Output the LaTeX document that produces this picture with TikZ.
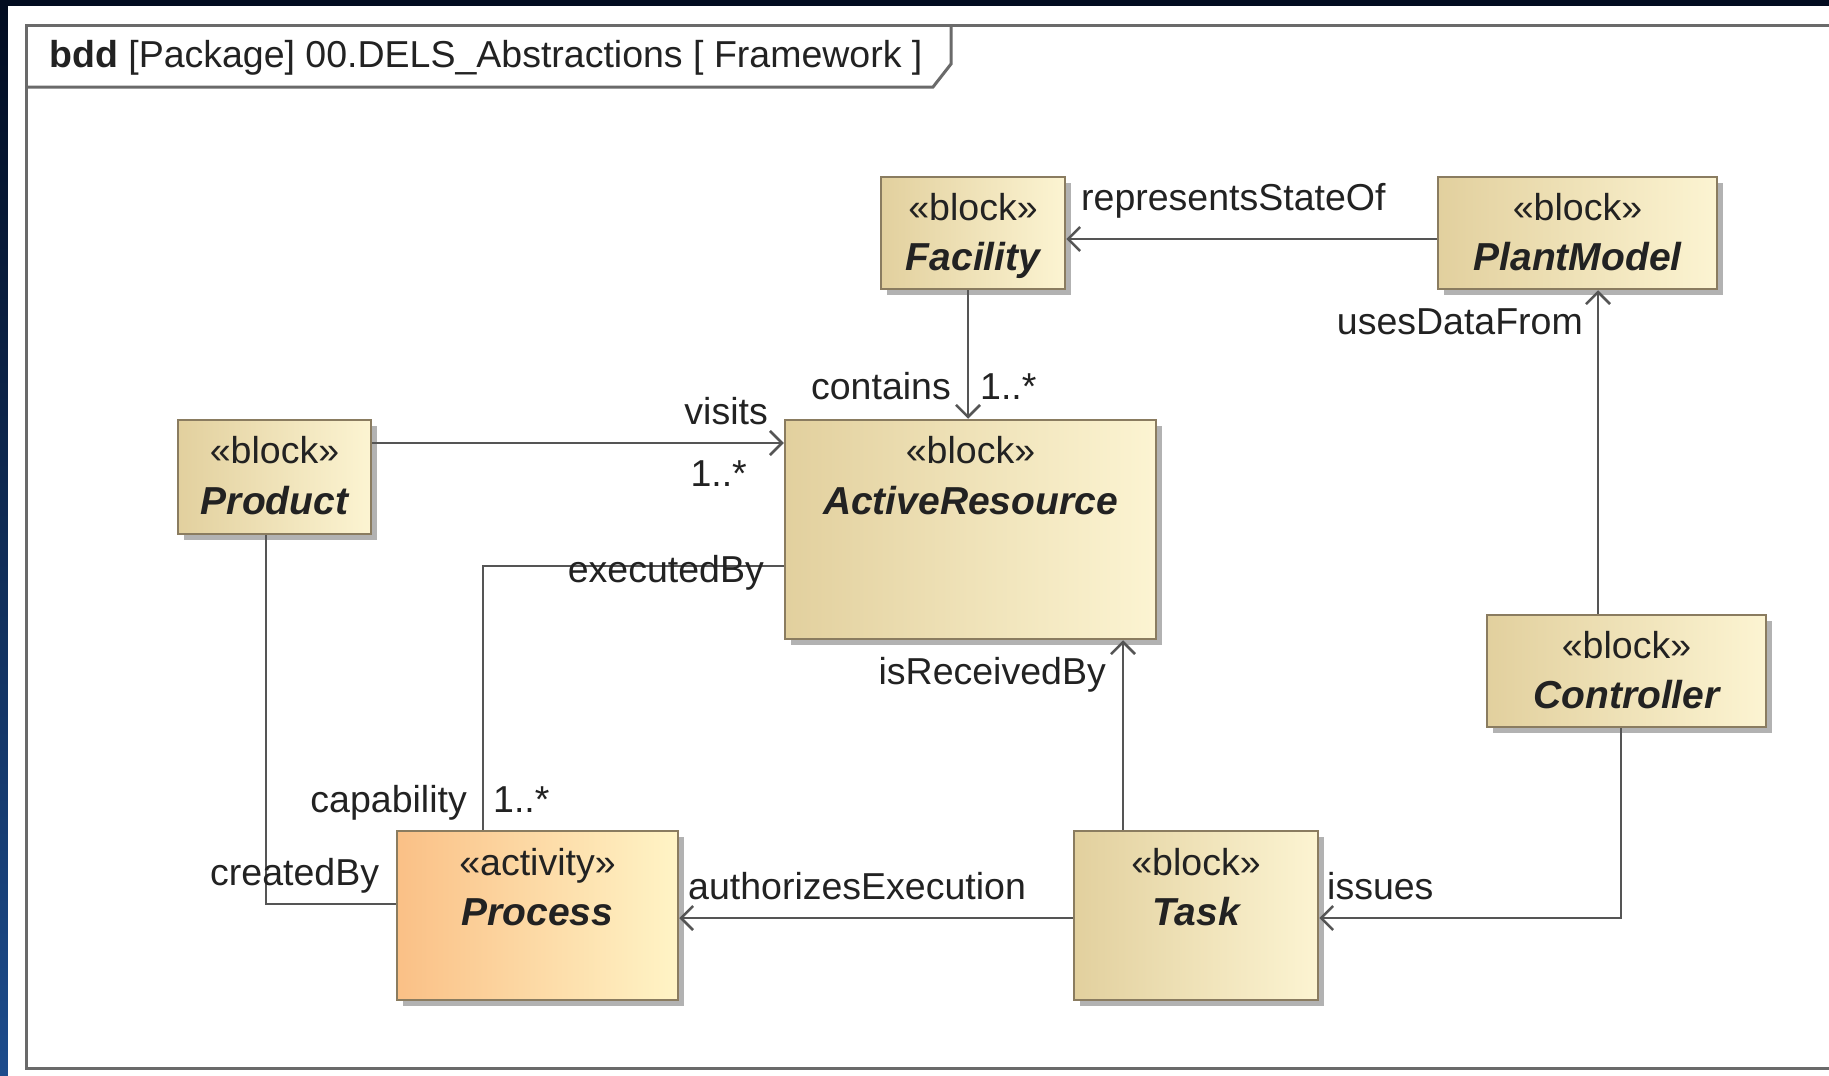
\documentclass[tikz,border=0pt]{standalone}
\usepackage{fontspec}
\setmainfont{Liberation Sans}
\usetikzlibrary{arrows.meta,shadows}
\definecolor{navy}{HTML}{020C20}
\definecolor{navyB}{HTML}{1D4C8C}
\definecolor{blkL}{HTML}{E2D09E}
\definecolor{blkR}{HTML}{FCF4D2}
\definecolor{procL}{HTML}{FAC086}
\definecolor{procR}{HTML}{FFF4C6}
\definecolor{bord}{HTML}{8A7C60}
\definecolor{lineC}{HTML}{555555}
\definecolor{frameC}{HTML}{6A6A6A}
\definecolor{txt}{HTML}{222222}
\newcommand\lbf{\fontsize{37.5}{41}\selectfont}
\newcommand\nmf{\fontsize{39}{43}\selectfont}
\tikzset{
  blockbox/.style={draw=bord, line width=2.5pt, left color=blkL, right color=blkR,
    drop shadow={shadow xshift=6pt, shadow yshift=-6pt, fill=black, opacity=.3},
    inner sep=0pt},
  procbox/.style={blockbox, left color=procL, right color=procR},
  stereo/.style={font=\lbf, text=txt, inner sep=0pt, text height=0.75em, text depth=0.2em},
  bname/.style={font=\nmf\bfseries\itshape, text=txt, inner sep=0pt, text height=0.75em, text depth=0.2em},
  lbl/.style={font=\lbf, text=txt, inner sep=0pt, text height=0.75em, text depth=0.2em},
  conn/.style={draw=lineC, line width=2.5pt},
  arr/.style={conn, -{Straight Barb[length=12pt,width=24pt,line width=2.5pt]}},
  frm/.style={draw=frameC, line width=3pt}
}
\begin{document}
\begin{tikzpicture}[x=1pt,y=-1pt]
\useasboundingbox (0,0) rectangle (1829,1076);
% background
\fill[navy] (0,0) rectangle (1829,1076);
\shade[top color=navy, bottom color=navyB] (0,6) rectangle (8,1076);
\fill[white] (8,6) rectangle (1829,1076);
% frame
\draw[frm] (1835,25) -- (26,25) -- (26,1068) -- (1835,1068);
\draw[frm] (26,87) -- (933,87) -- (951,64) -- (951,25);
\node[lbl, anchor=west] (hdr) at (49,65) {\textbf{bdd} [Package] 00.DELS\_Abstractions [ Framework ]};

% boxes
\node[blockbox, minimum width=184pt, minimum height=112pt] (fac) at (973,233) {};
\node[blockbox, minimum width=279pt, minimum height=112pt] (plant) at (1577.5,233) {};
\node[blockbox, minimum width=193pt, minimum height=114pt] (prod) at (274.5,477) {};
\node[blockbox, minimum width=371pt, minimum height=219pt] (ar) at (970.5,529.5) {};
\node[blockbox, minimum width=279pt, minimum height=112pt] (ctrl) at (1626.5,671) {};
\node[procbox, minimum width=281pt, minimum height=169pt] (proc) at (537.5,915.5) {};
\node[blockbox, minimum width=244pt, minimum height=169pt] (task) at (1196,915.5) {};

% box texts
\node[stereo] (facS) at (973,218) {«block»};
\node[bname] (facN) at (973,268) {Facility};
\node[stereo] (plantS) at (1577.5,218) {«block»};
\node[bname] (plantN) at (1577.5,268) {PlantModel};
\node[stereo] (prodS) at (274.5,461) {«block»};
\node[bname] (prodN) at (274.5,512) {Product};
\node[stereo] (arS) at (970.5,461) {«block»};
\node[bname] (arN) at (970.5,512) {ActiveResource};
\node[stereo] (ctrlS) at (1626.5,656) {«block»};
\node[bname] (ctrlN) at (1626.5,706) {Controller};
\node[stereo] (procS) at (537.5,873) {«activity»};
\node[bname] (procN) at (537.5,923) {Process};
\node[stereo] (taskS) at (1196,873) {«block»};
\node[bname] (taskN) at (1196,923) {Task};

% helper coordinates
\coordinate (rsY) at (0,239);
\coordinate (udX) at (1598,0);
\coordinate (cX) at (968,0);
\coordinate (vY) at (0,443);
\coordinate (eY) at (0,566);
\coordinate (eX) at (483,0);
\coordinate (pX) at (266,0);
\coordinate (pY) at (0,904);
\coordinate (tX) at (1123,0);
\coordinate (aY) at (0,918);
\coordinate (iX) at (1621,0);

% connectors
\draw[arr] (plant.west |- rsY) -- (fac.east |- rsY);
\draw[arr] (ctrl.north -| udX) -- (plant.south -| udX);
\draw[arr] (fac.south -| cX) -- (ar.north -| cX);
\draw[arr] (prod.east |- vY) -- (ar.west |- vY);
\draw[conn] (ar.west |- eY) -| (proc.north -| eX);
\draw[conn] (prod.south -| pX) |- (proc.west |- pY);
\draw[arr] (task.north -| tX) -- (ar.south -| tX);
\draw[arr] (task.west |- aY) -- (proc.east |- aY);
\draw[arr] (ctrl.south -| iX) |- (task.east |- aY);

% labels
\node[lbl, anchor=west] (l1) at (1081,208) {representsStateOf};
\node[lbl, anchor=east] (l2) at (1583,332) {usesDataFrom};
\node[lbl, anchor=east] (l3) at (951,397) {contains};
\node[lbl, anchor=west] (l4) at (980,397) {1..*};
\node[lbl, anchor=east] (l5) at (768,422) {visits};
\node[lbl, anchor=east] (l6) at (747,484) {1..*};
\node[lbl, anchor=east] (l7) at (764,580) {executedBy};
\node[lbl, anchor=east] (l8) at (467,810) {capability};
\node[lbl, anchor=west] (l9) at (493,810) {1..*};
\node[lbl, anchor=west] (l10) at (210,883) {createdBy};
\node[lbl, anchor=east] (l11) at (1106,682) {isReceivedBy};
\node[lbl, anchor=west] (l12) at (688,897) {authorizesExecution};
\node[lbl, anchor=west] (l13) at (1327,897) {issues};
\end{tikzpicture}
\end{document}
